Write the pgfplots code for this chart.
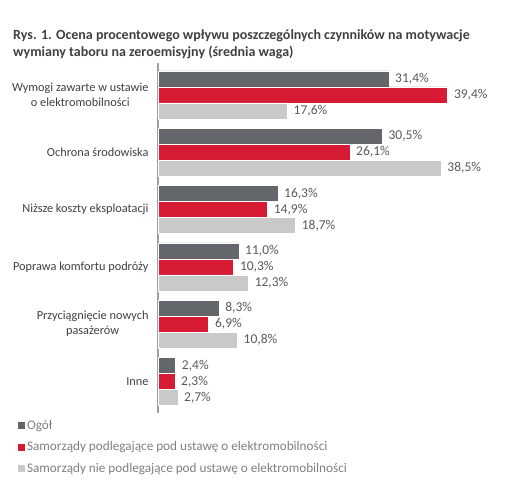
\documentclass[border=0pt]{standalone}
\usepackage{pgfplots}
\pgfplotsset{compat=1.18}
\usepackage{fontspec}
\setmainfont{Carlito}
\definecolor{cDark}{HTML}{63666A}
\definecolor{cRed}{HTML}{D71B34}
\definecolor{cLight}{HTML}{C9C9C9}
\definecolor{cTitle}{HTML}{404040}
\definecolor{cCat}{HTML}{404040}
\definecolor{cVal}{HTML}{595959}
\definecolor{cLeg}{HTML}{7F7F7F}
\begin{document}
\begin{tikzpicture}
\useasboundingbox (0,0) rectangle (526pt,499pt);
\node[anchor=north west, align=left, text=cTitle, font=\fontsize{14}{17}\selectfont\bfseries, inner sep=0pt] at (13pt,470pt)
 {Rys. 1. Ocena procentowego wpływu poszczególnych czynników na motywacje\\wymiany taboru na zeroemisyjny (średnia waga)};
\begin{axis}[
  at={(158pt,86pt)}, anchor=south west,
  scale only axis, width=353pt, height=349.7pt,
  xbar, bar width=16pt,
  xmin=0, xmax=48, ymin=-0.55, ymax=5.55,
  axis x line=none,
  axis y line*=left,
  y axis line style={draw=gray!75, line width=1.2pt, -},
  ytick={0,1,2,3,4,5},
  yticklabels={Inne,{Przyciągnięcie nowych\\pasażerów},Poprawa komfortu podróży,Niższe koszty eksploatacji,Ochrona środowiska,{Wymogi zawarte w ustawie\\o elektromobilności}},
  major tick length=0pt,
  yticklabel style={align=center, text=cCat, font=\fontsize{12.3}{15}\selectfont, xshift=-6pt},
  /pgf/number format/assume math mode=true,
  nodes near coords={\pgfmathprintnumber[fixed,fixed zerofill,precision=1,use comma]{\pgfplotspointmeta}\%},
  nodes near coords style={text=cVal, font=\fontsize{13.5}{15}\selectfont, inner sep=1pt, xshift=5pt},
  every axis plot/.append style={draw=white, line width=0.6pt},
  legend style={at={(axis description cs:-0.397,-0.014)}, anchor=north west, draw=none, fill=none,
    font=\fontsize{13.2}{15}\selectfont, text=cLeg, row sep=7pt, inner sep=0pt, legend cell align=left},
  legend image code/.code={\fill[#1, draw=none] (0pt,-3.5pt) rectangle (7pt,3.5pt);},
  clip=false,
]
\addplot[fill=cDark, bar shift=16pt] coordinates {(2.4,0) (8.3,1) (11.0,2) (16.3,3) (30.5,4) (31.4,5)};
\addplot[fill=cRed, bar shift=0pt] coordinates {(2.3,0) (6.9,1) (10.3,2) (14.9,3) (26.1,4) (39.4,5)};
\addplot[fill=cLight, bar shift=-16pt] coordinates {(2.7,0) (10.8,1) (12.3,2) (18.7,3) (38.5,4) (17.6,5)};
\legend{Ogół, Samorządy podlegające pod ustawę o elektromobilności, Samorządy nie podlegające pod ustawę o elektromobilności}
\end{axis}
\end{tikzpicture}
\end{document}
